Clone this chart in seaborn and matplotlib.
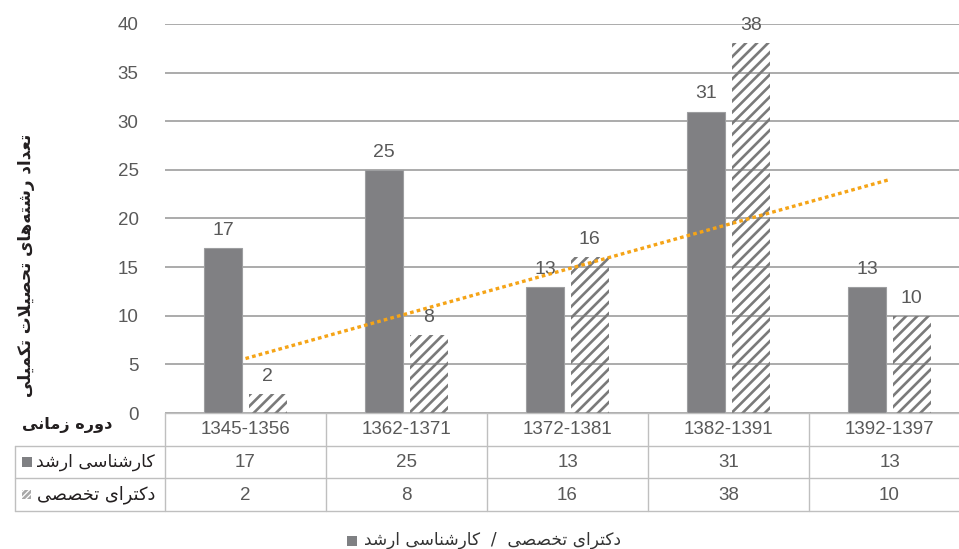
import numpy as np
import pandas as pd
import matplotlib
matplotlib.use("Agg")
import matplotlib.pyplot as plt
import seaborn as sns
from matplotlib.patches import Rectangle

# ---------------- data ----------------
categories = ['1345-1356', '1362-1371', '1372-1381', '1382-1391', '1392-1397']
masters = [17, 25, 13, 31, 13]
phd = [2, 8, 16, 38, 10]
series_names = ['کارشناسی ارشد', 'دکترای تخصصی']
x_title = 'دوره زمانی'
y_title = 'تعداد رشته\u200cهای تحصیلات تکمیلی'
y_ticks = [0, 5, 10, 15, 20, 25, 30, 35, 40]

# ------------- minimal Persian shaping (matplotlib has no text shaping) -------------
FORMS = {
    '\u0627': ('\uFE8D', '\uFE8E', None, None),      # alef
    '\u062F': ('\uFEA9', '\uFEAA', None, None),      # dal
    '\u0631': ('\uFEAD', '\uFEAE', None, None),      # reh
    '\u0632': ('\uFEAF', '\uFEB0', None, None),      # zain
    '\u0648': ('\uFEED', '\uFEEE', None, None),      # waw
    '\u062A': ('\uFE95', '\uFE96', '\uFE97', '\uFE98'),  # teh
    '\u0639': ('\uFEC9', '\uFECA', '\uFECB', '\uFECC'),  # ain
    '\u0634': ('\uFEB5', '\uFEB6', '\uFEB7', '\uFEB8'),  # sheen
    '\u0647': ('\uFEE9', '\uFEEA', '\uFEEB', '\uFEEC'),  # heh
    '\u06CC': ('\uFBFC', '\uFBFD', '\uFBFE', '\uFBFF'),  # farsi yeh
    '\u062D': ('\uFEA1', '\uFEA2', '\uFEA3', '\uFEA4'),  # hah
    '\u0635': ('\uFEB9', '\uFEBA', '\uFEBB', '\uFEBC'),  # sad
    '\u0644': ('\uFEDD', '\uFEDE', '\uFEDF', '\uFEE0'),  # lam
    '\u06A9': ('\uFB8E', '\uFB8F', '\uFB90', '\uFB91'),  # keheh
    '\u0645': ('\uFEE1', '\uFEE2', '\uFEE3', '\uFEE4'),  # meem
    '\u0646': ('\uFEE5', '\uFEE6', '\uFEE7', '\uFEE8'),  # noon
    '\u0633': ('\uFEB1', '\uFEB2', '\uFEB3', '\uFEB4'),  # seen
    '\u062E': ('\uFEA5', '\uFEA6', '\uFEA7', '\uFEA8'),  # khah
}


def shape(s):
    chars = list(s)
    out = []
    joins_next = lambda c: c in FORMS and FORMS[c][2] is not None
    i = 0
    while i < len(chars):
        c = chars[i]
        if c == '\u200c':
            i += 1
            continue
        if c not in FORMS:
            out.append(c)
            i += 1
            continue
        prev = chars[i - 1] if i > 0 else None
        pc = prev is not None and joins_next(prev)
        if c == '\u0644' and i + 1 < len(chars) and chars[i + 1] == '\u0627':
            out.append('\uFEFC' if pc else '\uFEFB')
            i += 2
            continue
        nxt = chars[i + 1] if i + 1 < len(chars) else None
        iso, fin, ini, med = FORMS[c]
        nc = ini is not None and nxt is not None and nxt in FORMS
        if pc and nc:
            out.append(med)
        elif pc:
            out.append(fin)
        elif nc:
            out.append(ini)
        else:
            out.append(iso)
        i += 1
    return ''.join(reversed(out))


# ---------------- style ----------------
sns.set_theme(style="white")
plt.rcParams['font.family'] = ['Liberation Sans', 'DejaVu Sans']
plt.rcParams['hatch.linewidth'] = 1.9
FA = ['DejaVu Sans']
TXT = '#595959'
DARK = '#231f20'
BAR = '#7f8083'
HATCH = '#7a7a7a'
GRID = '#ababab'
TLINE = '#bfbfbf'

W, H = 959, 549
fig = plt.figure(figsize=(W / 100, H / 100), dpi=100)
L, R = 165, 970            # plot area in pixels (right side runs off the image)
TOP, BOT = 24, 413
cat_w = (R - L) / 5

ax = fig.add_axes([L / W, 1 - BOT / H, (R - L) / W, (BOT - TOP) / H])

df = pd.DataFrame({
    'period': categories * 2,
    'value': masters + phd,
    'series': [series_names[0]] * 5 + [series_names[1]] * 5,
})
sns.barplot(data=df, x='period', y='value', hue='series', order=categories,
            hue_order=series_names, palette=[BAR, '#ffffff'], width=0.55, gap=0.14,
            legend=False, ax=ax, zorder=2)

for bar in ax.containers[0]:
    bar.set_edgecolor('#9d9ea0')
    bar.set_linewidth(0.8)
for bar in ax.containers[1]:
    bar.set_facecolor('none')
    bar.set_hatch('///')
    bar.set_edgecolor(HATCH)
    bar.set_linewidth(0)

for cont in ax.containers:
    ax.bar_label(cont, padding=6.5, color=TXT, fontsize=14)

# linear trend of the doctoral series
sns.regplot(x=np.arange(len(categories)), y=np.array(phd), scatter=False, ci=None,
            truncate=True, ax=ax,
            line_kws=dict(color='#f5a417', lw=2.4, linestyle=(0, (1.1, 0.95)),
                          dash_capstyle='butt', zorder=3))

ax.set_xlim(-0.5, 4.5)
ax.set_ylim(0, 40)
ax.set_yticks(y_ticks)
ax.set_xticks([])
ax.set_xlabel('')
ax.set_ylabel('')
ax.yaxis.grid(True, color=GRID, lw=1.4)
ax.set_axisbelow(True)
for sp in ax.spines.values():
    sp.set_visible(False)
ax.tick_params(axis='y', length=0, pad=19, labelsize=13.5, labelcolor=TXT)

# ---------------- data table ----------------
T_L, T_B = 15, 511
tax = fig.add_axes([T_L / W, 1 - T_B / H, (R - T_L) / W, (T_B - BOT) / H])
x0 = -0.5 - (L - T_L) / cat_w
tax.set_xlim(x0, 4.5)
tax.set_ylim(3, 0)
tax.axis('off')
row_h = (T_B - BOT) / 3
lk = dict(color=TLINE, lw=1.0, clip_on=False)
tax.plot([-0.5, 4.5], [0, 0], **lk)
for yy in [1, 2, 3]:
    tax.plot([x0, 4.5], [yy, yy], **lk)
tax.plot([x0, x0], [1, 3], **lk)
for k in range(6):
    tax.plot([k - 0.5, k - 0.5], [0, 3], **lk)

for k, cat in enumerate(categories):
    tax.text(k, 0.52, cat, ha='center', va='center', color=TXT, fontsize=13.5)
    tax.text(k, 1.52, str(masters[k]), ha='center', va='center', color=TXT, fontsize=13.5)
    tax.text(k, 2.52, str(phd[k]), ha='center', va='center', color=TXT, fontsize=13.5)

# row legend keys
px = 1 / cat_w
py = 1 / row_h
tax.add_patch(Rectangle((x0 + 7 * px, 1.5 - 5 * py), 10 * px, 10 * py,
                        facecolor=BAR, edgecolor='none', clip_on=False))
tax.add_patch(Rectangle((x0 + 7 * px, 2.5 - 5 * py), 9 * px, 9 * py,
                        facecolor='none', edgecolor='#a8a8a8', lw=0, hatch='//////',
                        clip_on=False))

t_row1 = tax.text(x0 + 140 * px, 1.5, shape(series_names[0]), ha='right', va='center',
                  color=DARK, fontsize=12, family=FA)
t_row2 = tax.text(x0 + 140 * px, 2.5, shape(series_names[1]), ha='right', va='center',
                  color=DARK, fontsize=12, family=FA)
t_xt = fig.text(67 / W, 1 - 425 / H, shape(x_title), ha='center', va='center',
                color=DARK, fontsize=12, fontweight='bold', family=FA)
t_yt = fig.text(26 / W, 1 - 265 / H, shape(y_title), ha='center', va='center',
                rotation=90, color=DARK, fontsize=13, fontweight='bold', family=FA)
t_leg = fig.text(364 / W, 1 - 540 / H,
                 shape(series_names[0]) + '  /  ' + shape(series_names[1]),
                 ha='left', va='center', color='#333333', fontsize=11, family=FA)
fig.add_artist(Rectangle((347 / W, 1 - 546 / H), 10 / W, 10 / H,
                         transform=fig.transFigure, facecolor=BAR, edgecolor='none'))

# fit Persian text widths to the reference layout
fig.canvas.draw()
rend = fig.canvas.get_renderer()


def fit(t, target, vertical=False):
    bb = t.get_window_extent(rend)
    size = bb.height if vertical else bb.width
    t.set_fontsize(t.get_fontsize() * target / size)


fit(t_row1, 118)
fit(t_row2, 118)
fit(t_xt, 90)
fit(t_yt, 264, vertical=True)
fit(t_leg, 256)

fig.savefig('out.png', dpi=100)
